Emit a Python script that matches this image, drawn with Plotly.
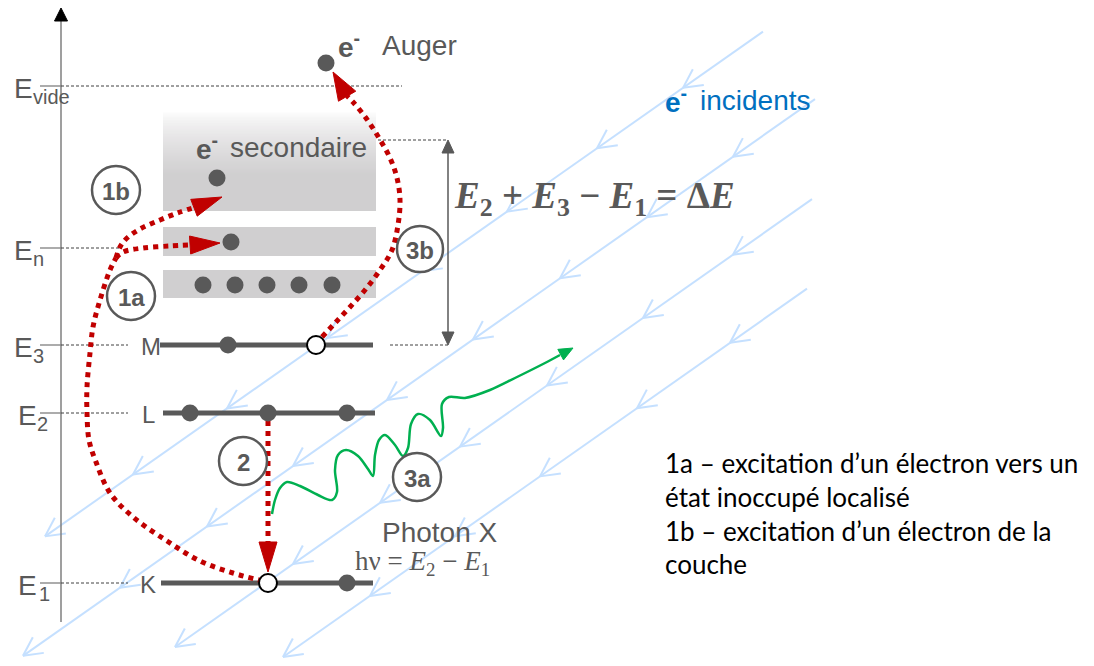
import numpy as np
import plotly.graph_objects as go

W, H = 1094, 666
GRAY = "#595959"
RED = "#c00000"
BLUE = "#c5e0ff"
BLUE_TEXT = "#0070c0"
GREEN = "#00b050"
BAND = "#d0cfd0"
SANS = "Liberation Sans, Arial, sans-serif"
SERIF = "Liberation Serif, Times New Roman, serif"
BODY = "Lato, Calibri, sans-serif"

# ---------------- data ----------------
LEVEL_NAMES = ["K", "L", "M"]
LEVEL_Y = [583, 413, 345]
LEVEL_X0 = [161, 163, 160]
LEVEL_X1 = [373, 375, 373]
LEVEL_NAME_X = [148, 148, 151]

E_SUBS = ["vide", "n", "3", "2", "1"]
E_Y = [86, 248, 345, 413, 583]
E_X = [12, 12, 12, 16, 16]
E_SUB_X = [31, 31, 31, 35, 37]
E_DASH_END = [402, 122, 128, 128, 128]
TICK_X = [40, 61]

AXIS_X = 61
AXIS_Y = [622, 8]

BAND_X = [163, 376]
BAND_Y0 = [227, 270]
BAND_Y1 = [256, 298]
CB_Y = [112, 175, 211]  # fade start, fade end, bottom of conduction band

ELECTRON_X = [190, 268, 347, 228, 347, 203, 235, 267, 299, 332, 231, 217, 326]
ELECTRON_Y = [413, 413, 413, 345, 583, 285, 285, 285, 285, 285, 242, 178, 63]
HOLE_X = [316, 268]
HOLE_Y = [345, 583]

DE_X = 448
DE_Y = [140, 345]
DE_DASH_X0 = [378, 390]

INC_SLOPE = 0.703
INC_C = [568, 672, 770, 856]
INC_X_TOP = [763, 815, 812, 807]
INC_X_BOTTOM = [45, 23, 175, 283]
INC_CHEVRONS = [
    [683, 597, 507, 422, 327, 227, 133, 45],
    [733, 647, 560, 473, 387, 293, 207, 120, 23],
    [733, 643, 547, 460, 380, 293, 175],
    [730, 637, 540, 455, 370, 283],
]

# red dotted transitions (control points) and arrow tips
PATH_K_X = [263, 233, 200, 167, 133, 110, 96, 89, 87, 87, 90, 93, 100, 110, 116]
PATH_K_Y = [581, 573, 561, 541, 517, 493, 462, 440, 413, 387, 353, 327, 300, 270, 258]
PATH_1A_X = [116, 123, 143, 170, 190]
PATH_1A_Y = [258, 252, 248, 246, 245]
TIP_1A = (220, 243)
PATH_1B_X = [116, 120, 127, 140, 160, 180, 196]
PATH_1B_Y = [258, 247, 238, 229, 220, 212, 207]
TIP_1B = (222, 197)
PATH_AUGER_X = [322, 336, 350, 365, 380, 392, 398, 400, 397, 390, 379, 366, 353, 347]
PATH_AUGER_Y = [337, 322, 307, 290, 270, 250, 225, 200, 178, 158, 138, 118, 102, 96]
TIP_AUGER = (333, 72)
PATH_2_X = [268, 268]
PATH_2_Y = [421, 542]
TIP_2 = (268, 572)

WAVE_X = [272, 275, 280, 287, 300, 318, 332, 337, 335, 338, 346, 358, 368, 373, 375, 379, 385, 395, 403, 408, 411, 418, 430, 441, 443, 442, 449, 465, 490, 515, 545, 560]
WAVE_Y = [514, 500, 488, 482, 486, 495, 500, 492, 470, 455, 450, 456, 469, 476, 455, 440, 435, 445, 456, 448, 424, 414, 420, 436, 428, 404, 397, 398, 390, 378, 363, 355]
TIP_WAVE = (573, 348)

CIRCLE_LABELS = ["1b", "1a", "3b", "2", "3a"]
CIRCLE_X = [116, 131, 420, 243, 417]
CIRCLE_Y = [190, 296, 249, 461, 477]
CIRCLE_R = [24, 24, 23, 24, 24]

RIGHT_TEXT = [
    "1a – excitation d’un électron vers un",
    "état inoccupé localisé",
    "1b – excitation d’un électron de la",
    "couche",
]
RIGHT_TEXT_X = 663
RIGHT_TEXT_Y = [463, 497, 531, 564]

fig = go.Figure()


def line(x, y, color, width, dash="solid", shape="linear", smoothing=1.0):
    fig.add_trace(go.Scatter(x=x, y=y, mode="lines", hoverinfo="skip", showlegend=False,
                             line=dict(color=color, width=width, dash=dash, shape=shape,
                                       smoothing=smoothing)))


def head(tip, frm, length, half, color):
    t = np.array(tip, float)
    f = np.array(frm, float)
    u = (t - f) / np.linalg.norm(t - f)
    n = np.array([-u[1], u[0]])
    b = t - length * u
    pts = [t, b + half * n, b - half * n, t]
    fig.add_trace(go.Scatter(x=[p[0] for p in pts], y=[p[1] for p in pts], mode="lines",
                             fill="toself", fillcolor=color, line=dict(color=color, width=1),
                             hoverinfo="skip", showlegend=False))


# ---- incident electrons (blue lines with chevrons) ----
d = np.array([-1.0, INC_SLOPE])
d /= np.linalg.norm(d)
back = -d
for c, xt, xb, chev in zip(INC_C, INC_X_TOP, INC_X_BOTTOM, INC_CHEVRONS):
    line([xt, xb], [c - INC_SLOPE * xt, c - INC_SLOPE * xb], BLUE, 2)
    cx, cy = [], []
    for xv in chev:
        tip = np.array([xv, c - INC_SLOPE * xv])
        for ang in (np.radians(27), np.radians(-27)):
            rot = np.array([back[0] * np.cos(ang) - back[1] * np.sin(ang),
                            back[0] * np.sin(ang) + back[1] * np.cos(ang)])
            e = tip + 21 * rot
            cx += [e[0], tip[0], None]
            cy += [e[1], tip[1], None]
    line(cx, cy, BLUE, 2)

# ---- bands ----
shapes = []
for y0, y1 in zip(BAND_Y0, BAND_Y1):
    shapes.append(dict(type="rect", x0=BAND_X[0], x1=BAND_X[1], y0=y0, y1=y1,
                       fillcolor=BAND, line=dict(width=0), layer="below"))
nstrip = 40
ys = np.linspace(CB_Y[0], CB_Y[1], nstrip + 1)
for i in range(nstrip):
    t = ((i + 0.5) / nstrip) ** 0.7
    r = int(round(255 + (208 - 255) * t))
    g = int(round(255 + (207 - 255) * t))
    shapes.append(dict(type="rect", x0=BAND_X[0], x1=BAND_X[1], y0=ys[i], y1=ys[i + 1] + 0.8,
                       fillcolor=f"rgb({r},{g},{r})", line=dict(width=0), layer="below"))
shapes.append(dict(type="rect", x0=BAND_X[0], x1=BAND_X[1], y0=CB_Y[1], y1=CB_Y[2],
                   fillcolor=BAND, line=dict(width=0), layer="below"))

# ---- axis ----
line([AXIS_X, AXIS_X], [AXIS_Y[0], AXIS_Y[1] + 12], "#7f7f7f", 1.5)
head((AXIS_X, AXIS_Y[1]), (AXIS_X, AXIS_Y[0]), 13, 6.5, "#000000")

# ---- energy reference lines ----
for ey, xe in zip(E_Y, E_DASH_END):
    line(TICK_X, [ey, ey], "#7f7f7f", 1.3)
    line([TICK_X[1], xe], [ey, ey], "#404040", 1, dash="3px,2px")
for x0, ey in zip(DE_DASH_X0, DE_Y):
    line([x0, DE_X], [ey, ey], "#404040", 1, dash="3px,2px")

# ---- ΔE double arrow ----
line([DE_X, DE_X], [DE_Y[0] + 12, DE_Y[1] - 12], GRAY, 1.5)
head((DE_X, DE_Y[0]), (DE_X, DE_Y[1]), 13, 6, GRAY)
head((DE_X, DE_Y[1]), (DE_X, DE_Y[0]), 13, 6, GRAY)

# ---- levels ----
for y, x0, x1 in zip(LEVEL_Y, LEVEL_X0, LEVEL_X1):
    line([x0, x1], [y, y], GRAY, 5)

# ---- red transitions ----
line(PATH_K_X, PATH_K_Y, RED, 5, dash="dot", shape="spline", smoothing=1.0)
line(PATH_1A_X, PATH_1A_Y, RED, 5, dash="dot", shape="spline", smoothing=1.0)
line(PATH_1B_X, PATH_1B_Y, RED, 5, dash="dot", shape="spline", smoothing=1.0)
line(PATH_AUGER_X, PATH_AUGER_Y, RED, 5, dash="dot", shape="spline", smoothing=1.0)
line(PATH_2_X, PATH_2_Y, RED, 5, dash="dot")
head(TIP_1A, (PATH_1A_X[-1], PATH_1A_Y[-1]), 30, 9, RED)
head(TIP_1B, (PATH_1B_X[-1], PATH_1B_Y[-1]), 30, 9, RED)
head(TIP_AUGER, (PATH_AUGER_X[-1], PATH_AUGER_Y[-1]), 28, 10, RED)
head(TIP_2, (PATH_2_X[-1], PATH_2_Y[-1]), 30, 9, RED)

# ---- photon wave ----
line(WAVE_X, WAVE_Y, GREEN, 2.5, shape="spline", smoothing=0.9)
head(TIP_WAVE, (WAVE_X[-1], WAVE_Y[-1]), 14, 6, GREEN)

# ---- electrons and holes ----
fig.add_trace(go.Scatter(x=ELECTRON_X, y=ELECTRON_Y, mode="markers", hoverinfo="skip",
                         showlegend=False,
                         marker=dict(size=17, color=GRAY, line=dict(width=0))))
fig.add_trace(go.Scatter(x=HOLE_X, y=HOLE_Y, mode="markers", hoverinfo="skip",
                         showlegend=False,
                         marker=dict(size=18, color="white", line=dict(width=2, color="black"))))

# ---- circled step labels ----
ann = []
for lab, cx, cy, r in zip(CIRCLE_LABELS, CIRCLE_X, CIRCLE_Y, CIRCLE_R):
    shapes.append(dict(type="circle", x0=cx - r, x1=cx + r, y0=cy - r, y1=cy + r,
                       fillcolor="white", line=dict(color=GRAY, width=2.5), layer="above"))
    ann.append(dict(x=cx, y=cy + 1, text=f"<b>{lab}</b>", font=dict(family=SANS, size=24, color=GRAY),
                    xanchor="center", yanchor="middle"))

# ---- texts ----
for sub, ex, sx, ey in zip(E_SUBS, E_X, E_SUB_X, E_Y):
    ann.append(dict(x=ex, y=ey + 2, text="E", font=dict(family=SANS, size=28, color=GRAY),
                    xanchor="left", yanchor="middle"))
    ann.append(dict(x=sx, y=ey + 11, text=sub, font=dict(family=SANS, size=20, color=GRAY),
                    xanchor="left", yanchor="middle"))
for name, nx, ly in zip(LEVEL_NAMES, LEVEL_NAME_X, LEVEL_Y):
    ann.append(dict(x=nx, y=ly + 1, text=name, font=dict(family=SANS, size=24, color=GRAY),
                    xanchor="center", yanchor="middle"))


def elabel(xe, xw, y, word, color):
    ann.append(dict(x=xe, y=y, text="<b>e<sup>-</sup></b>", font=dict(family=SANS, size=28, color=color),
                    xanchor="left", yanchor="middle"))
    ann.append(dict(x=xw, y=y, text=word, font=dict(family=SANS, size=28, color=color),
                    xanchor="left", yanchor="middle"))


elabel(336, 380, 45, "Auger", GRAY)
elabel(194, 228, 147, "secondaire", GRAY)
elabel(663, 698, 100, "incidents", BLUE_TEXT)

ann.append(dict(x=380, y=532, text="Photon X", font=dict(family=SANS, size=28, color=GRAY),
                xanchor="left", yanchor="middle"))
ann.append(dict(x=353, y=563, text="hν = <i>E</i><sub>2</sub> − <i>E</i><sub>1</sub>",
                font=dict(family=SERIF, size=27, color=GRAY), xanchor="left", yanchor="middle"))
ann.append(dict(x=452, y=198,
                text="<b><i>E</i><sub>2</sub> + <i>E</i><sub>3</sub> − <i>E</i><sub>1</sub> = Δ<i>E</i></b>",
                font=dict(family=SERIF, size=37, color=GRAY), xanchor="left", yanchor="middle"))
for txt, ty in zip(RIGHT_TEXT, RIGHT_TEXT_Y):
    ann.append(dict(x=RIGHT_TEXT_X, y=ty, text=txt, font=dict(family=BODY, size=26, color="#000000"),
                    xanchor="left", yanchor="middle"))

for a in ann:
    a.update(xref="x", yref="y", showarrow=False)

fig.update_layout(
    width=W, height=H, margin=dict(l=0, r=0, t=0, b=0),
    paper_bgcolor="white", plot_bgcolor="white",
    xaxis=dict(range=[0, W], visible=False, fixedrange=True),
    yaxis=dict(range=[H, 0], visible=False, fixedrange=True),
    shapes=shapes, annotations=ann, showlegend=False,
)

fig.write_html("out.html", config={"displayModeBar": False},
               post_script="document.body.style.margin='0';document.body.style.overflow='hidden';")
